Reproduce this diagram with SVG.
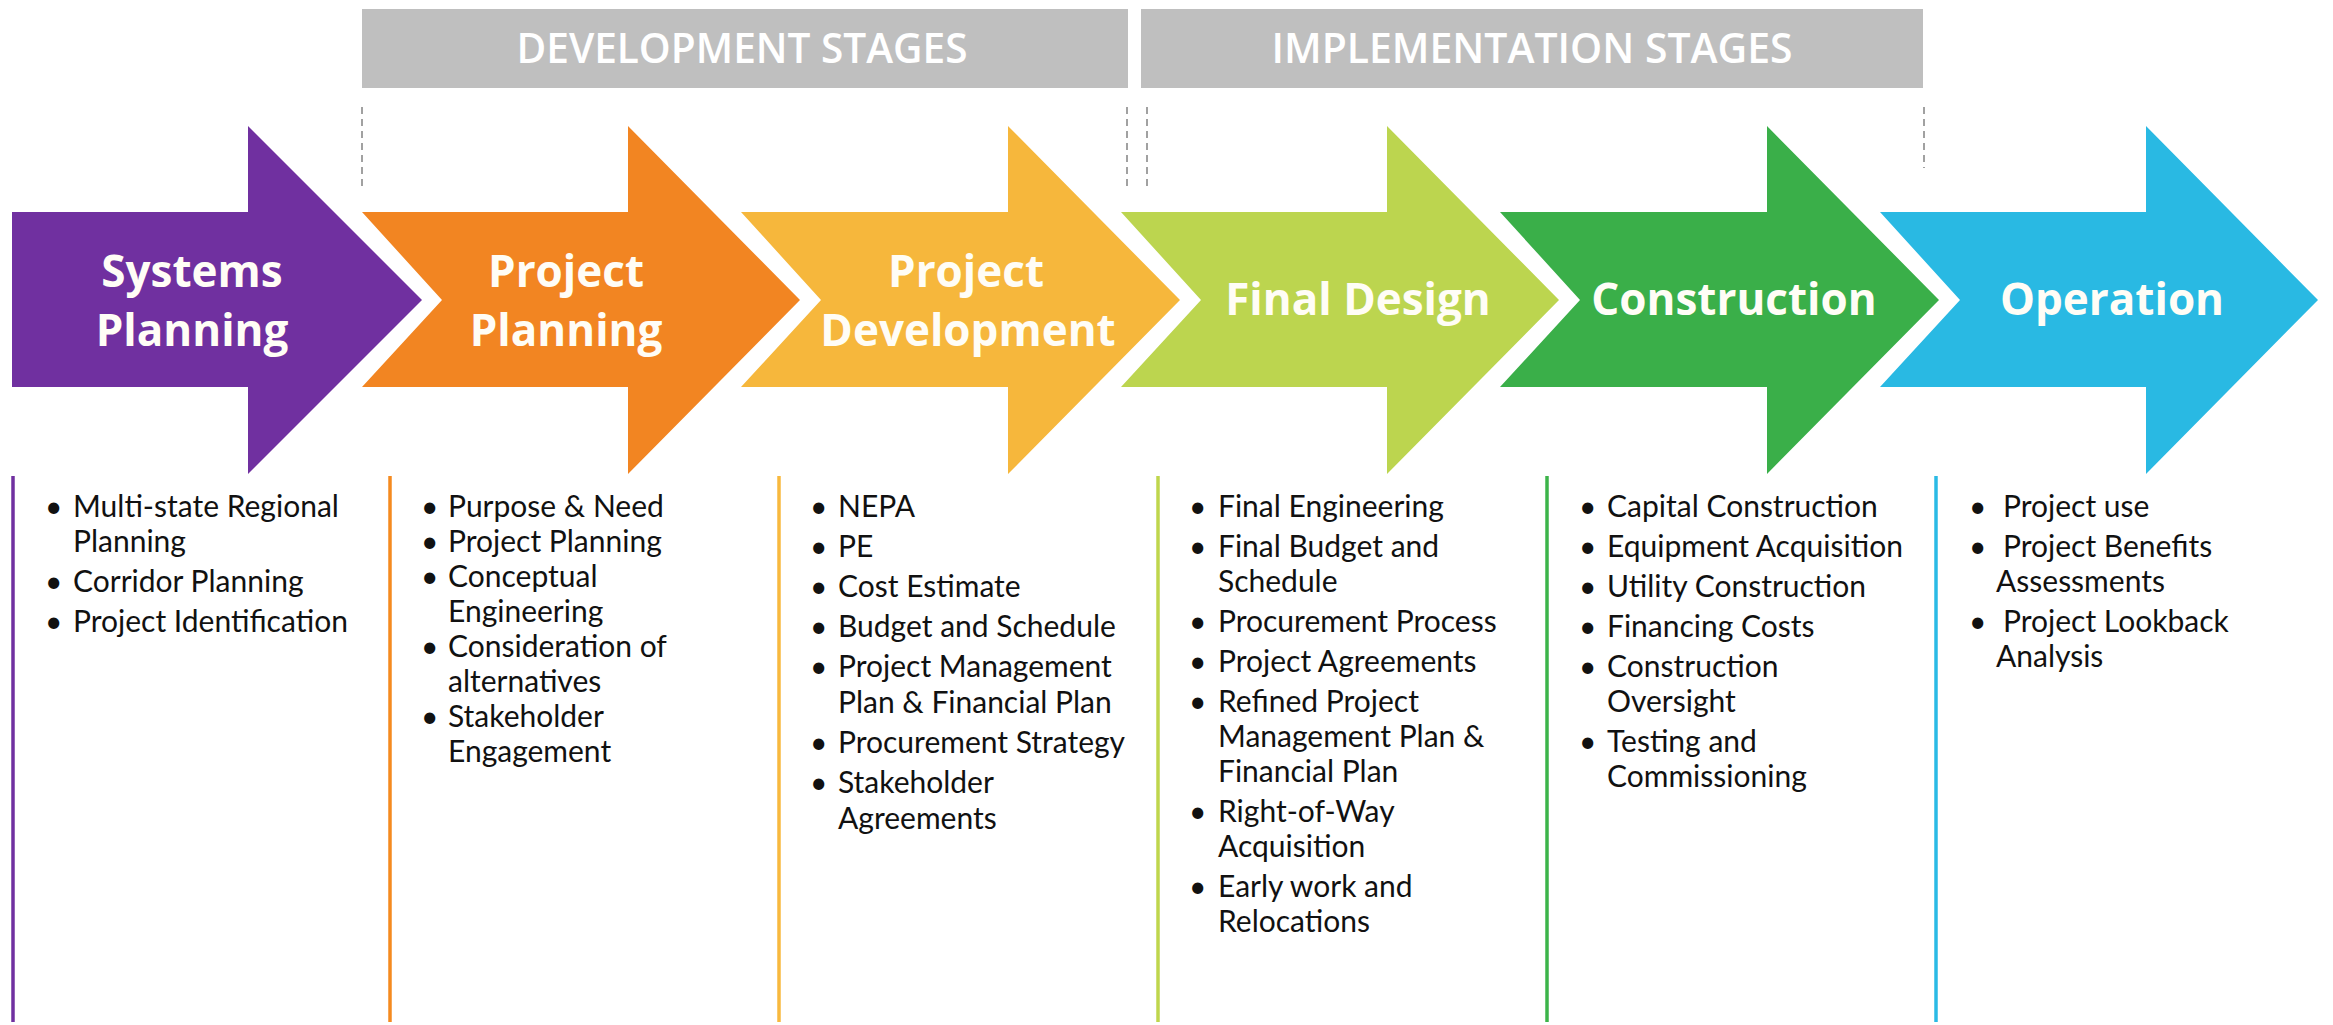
<svg xmlns="http://www.w3.org/2000/svg" width="2333" height="1025" viewBox="0 0 2333 1025">
<style>
.bg{fill:#ffffff}
.hdr{fill:#bfbfbf}
.hdrt{font-family:"Open Sans","Liberation Sans",sans-serif;font-weight:600;font-size:41px;fill:#ffffff;text-anchor:middle}
.lbl{font-family:"Open Sans","Liberation Sans",sans-serif;font-weight:700;font-size:44px;fill:#fffdf6;text-anchor:middle}
.item{font-family:Lato,"Liberation Sans",sans-serif;font-size:30px;fill:#111111}
.dash{stroke:#8a8a8a;stroke-width:1.6;stroke-dasharray:7 5;fill:none}
.vl{stroke-width:3.5;fill:none}
</style>
<rect class="bg" x="0" y="0" width="2333" height="1025"/>

<g id="header-development">
<rect class="hdr" x="362" y="9" width="766" height="79"/>
<text class="hdrt" x="742" y="63" textLength="451" lengthAdjust="spacingAndGlyphs">DEVELOPMENT STAGES</text>
</g>
<g id="header-implementation">
<rect class="hdr" x="1141" y="9" width="782" height="79"/>
<text class="hdrt" x="1532" y="63" textLength="521" lengthAdjust="spacingAndGlyphs">IMPLEMENTATION STAGES</text>
</g>

<g id="connectors">
<line class="dash" x1="362" y1="107" x2="362" y2="186"/>
<line class="dash" x1="1127" y1="107" x2="1127" y2="187"/>
<line class="dash" x1="1147" y1="107" x2="1147" y2="187"/>
<line class="dash" x1="1924" y1="107" x2="1924" y2="168"/>
</g>

<g id="stage-systems-planning">
<polygon fill="#7030a0" points="12,212 248,212 248,126 422,300 248,474 248,387 12,387"/>
<text class="lbl" x="192" y="287">Systems</text>
<text class="lbl" x="192" y="346">Planning</text>
</g>
<g id="stage-project-planning">
<polygon fill="#f28522" points="362,212 628,212 628,126 800,300 628,474 628,387 362,387 442,300"/>
<text class="lbl" x="566" y="287">Project</text>
<text class="lbl" x="566" y="346">Planning</text>
</g>
<g id="stage-project-development">
<polygon fill="#f6b73c" points="741,212 1008,212 1008,126 1180,300 1008,474 1008,387 741,387 821,300"/>
<text class="lbl" x="966" y="287">Project</text>
<text class="lbl" x="968" y="346">Development</text>
</g>
<g id="stage-final-design">
<polygon fill="#bcd54f" points="1121,212 1387,212 1387,126 1559,300 1387,474 1387,387 1121,387 1201,300"/>
<text class="lbl" x="1358" y="315">Final Design</text>
</g>
<g id="stage-construction">
<polygon fill="#3aaf49" points="1500,212 1767,212 1767,126 1939,300 1767,474 1767,387 1500,387 1580,300"/>
<text class="lbl" x="1734" y="315">Construction</text>
</g>
<g id="stage-operation">
<polygon fill="#29b9e3" points="1880,212 2146,212 2146,126 2318,300 2146,474 2146,387 1880,387 1960,300"/>
<text class="lbl" x="2112" y="315">Operation</text>
</g>

<g id="list-systems-planning">
<line class="vl" stroke="#7030a0" x1="13" y1="476" x2="13" y2="1022"/>
<text class="item">
<tspan x="45" y="517">•</tspan><tspan x="73" y="517">Multi-state Regional</tspan>
<tspan x="73" y="552">Planning</tspan>
<tspan x="45" y="592">•</tspan><tspan x="73" y="592">Corridor Planning</tspan>
<tspan x="45" y="632">•</tspan><tspan x="73" y="632">Project Identification</tspan>
</text>
</g>
<g id="list-project-planning">
<line class="vl" stroke="#f58a1f" x1="390" y1="476" x2="390" y2="1022"/>
<text class="item">
<tspan x="421" y="517">•</tspan><tspan x="448" y="517">Purpose &amp; Need</tspan>
<tspan x="421" y="552">•</tspan><tspan x="448" y="552">Project Planning</tspan>
<tspan x="421" y="587">•</tspan><tspan x="448" y="587">Conceptual</tspan>
<tspan x="448" y="622">Engineering</tspan>
<tspan x="421" y="657">•</tspan><tspan x="448" y="657">Consideration of</tspan>
<tspan x="448" y="692">alternatives</tspan>
<tspan x="421" y="727">•</tspan><tspan x="448" y="727">Stakeholder</tspan>
<tspan x="448" y="762">Engagement</tspan>
</text>
</g>
<g id="list-project-development">
<line class="vl" stroke="#f8b93e" x1="779" y1="476" x2="779" y2="1022"/>
<text class="item">
<tspan x="810" y="517">•</tspan><tspan x="838" y="517">NEPA</tspan>
<tspan x="810" y="557">•</tspan><tspan x="838" y="557">PE</tspan>
<tspan x="810" y="597">•</tspan><tspan x="838" y="597">Cost Estimate</tspan>
<tspan x="810" y="637">•</tspan><tspan x="838" y="637">Budget and Schedule</tspan>
<tspan x="810" y="677">•</tspan><tspan x="838" y="677">Project Management</tspan>
<tspan x="838" y="713">Plan &amp; Financial Plan</tspan>
<tspan x="810" y="753">•</tspan><tspan x="838" y="753">Procurement Strategy</tspan>
<tspan x="810" y="793">•</tspan><tspan x="838" y="793">Stakeholder</tspan>
<tspan x="838" y="829">Agreements</tspan>
</text>
</g>
<g id="list-final-design">
<line class="vl" stroke="#bfd64d" x1="1158" y1="476" x2="1158" y2="1022"/>
<text class="item">
<tspan x="1189" y="517">•</tspan><tspan x="1218" y="517">Final Engineering</tspan>
<tspan x="1189" y="557">•</tspan><tspan x="1218" y="557">Final Budget and</tspan>
<tspan x="1218" y="592">Schedule</tspan>
<tspan x="1189" y="632">•</tspan><tspan x="1218" y="632">Procurement Process</tspan>
<tspan x="1189" y="672">•</tspan><tspan x="1218" y="672">Project Agreements</tspan>
<tspan x="1189" y="712">•</tspan><tspan x="1218" y="712">Refined Project</tspan>
<tspan x="1218" y="747">Management Plan &amp;</tspan>
<tspan x="1218" y="782">Financial Plan</tspan>
<tspan x="1189" y="822">•</tspan><tspan x="1218" y="822">Right-of-Way</tspan>
<tspan x="1218" y="857">Acquisition</tspan>
<tspan x="1189" y="897">•</tspan><tspan x="1218" y="897">Early work and</tspan>
<tspan x="1218" y="932">Relocations</tspan>
</text>
</g>
<g id="list-construction">
<line class="vl" stroke="#3cb44a" x1="1547" y1="476" x2="1547" y2="1022"/>
<text class="item">
<tspan x="1579" y="517">•</tspan><tspan x="1607" y="517">Capital Construction</tspan>
<tspan x="1579" y="557">•</tspan><tspan x="1607" y="557">Equipment Acquisition</tspan>
<tspan x="1579" y="597">•</tspan><tspan x="1607" y="597">Utility Construction</tspan>
<tspan x="1579" y="637">•</tspan><tspan x="1607" y="637">Financing Costs</tspan>
<tspan x="1579" y="677">•</tspan><tspan x="1607" y="677">Construction</tspan>
<tspan x="1607" y="712">Oversight</tspan>
<tspan x="1579" y="752">•</tspan><tspan x="1607" y="752">Testing and</tspan>
<tspan x="1607" y="787">Commissioning</tspan>
</text>
</g>
<g id="list-operation">
<line class="vl" stroke="#2bbae5" x1="1936" y1="476" x2="1936" y2="1022"/>
<text class="item">
<tspan x="1969" y="517">•</tspan><tspan x="2003" y="517">Project use</tspan>
<tspan x="1969" y="557">•</tspan><tspan x="2003" y="557">Project Benefits</tspan>
<tspan x="1996" y="592">Assessments</tspan>
<tspan x="1969" y="632">•</tspan><tspan x="2003" y="632">Project Lookback</tspan>
<tspan x="1996" y="667">Analysis</tspan>
</text>
</g>
</svg>
